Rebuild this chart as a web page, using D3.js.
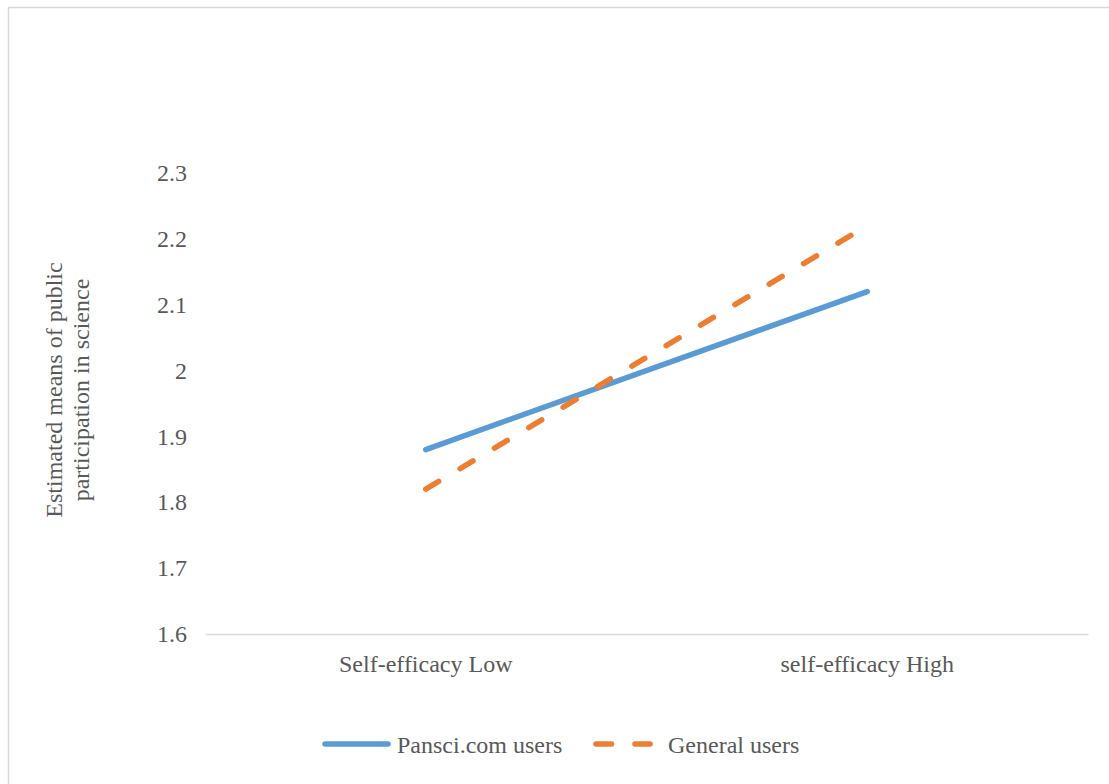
<!DOCTYPE html>
<html>
<head>
<meta charset="utf-8">
<script src="https://cdn.jsdelivr.net/npm/d3@7"></script>
</head>
<body style="margin:0; background:#fff">
<div id="chart"></div>
<script>
// data
var categories = ["Self-efficacy Low", "self-efficacy High"];
var pansci = [1.88, 2.12];
var general = [1.82, 2.22];
var yTicks = [1.6, 1.7, 1.8, 1.9, 2, 2.1, 2.2, 2.3];
var seriesNames = ["Pansci.com users", "General users"];

var FONT = "'Liberation Serif'";
var textColor = "#595959";
var blue = "#5b9bd5", orange = "#ed7d31";

var W = 1109, H = 784;
var margin = {top: 173, right: 21, bottom: 150, left: 205};
var width = W - margin.left - margin.right;
var height = H - margin.top - margin.bottom;

var svg = d3.select("#chart").append("svg")
    .attr("width", W)
    .attr("height", H);

// chart frame (only top/left edges fall inside the picture)
svg.append("rect")
    .attr("x", 8.5).attr("y", 7.5)
    .attr("width", W + 10).attr("height", H + 10)
    .style("fill", "none")
    .style("stroke", "#d9d9d9")
    .style("stroke-width", 1.5);

var g = svg.append("g")
    .attr("transform", "translate(" + margin.left + "," + margin.top + ")");

var xScale = d3.scaleBand()
    .domain(categories)
    .range([0, width]);

var yScale = d3.scaleLinear()
    .domain([1.6, 2.3])
    .range([height, 0]);

// y tick labels, no axis line
var yAxis = g.append("g")
    .attr("class", "y axis")
    .call(d3.axisLeft(yScale).tickValues(yTicks).tickFormat(d3.format("")).tickSize(0).tickPadding(18));
yAxis.attr("font-family", null);
yAxis.select(".domain").remove();
yAxis.selectAll("text")
    .style("font-size", "24px")
    .style("fill", textColor)
    .style("font-family", FONT);

// x axis
var xAxis = g.append("g")
    .attr("class", "x axis")
    .attr("transform", "translate(0," + height + ")")
    .call(d3.axisBottom(xScale).tickSize(0).tickPadding(21));
xAxis.attr("font-family", null);
xAxis.select(".domain")
    .style("stroke", "#d9d9d9")
    .style("stroke-width", 1.5);
xAxis.selectAll("text")
    .style("font-size", "24px")
    .style("fill", textColor)
    .style("font-family", FONT);

// y axis title
var yTitle = svg.append("text")
    .attr("transform", "translate(62," + 390 + ") rotate(-90)")
    .attr("text-anchor", "middle")
    .style("font-size", "24px")
    .style("fill", textColor)
    .style("font-family", FONT);
yTitle.append("tspan").attr("x", 0).attr("dy", 0).text("Estimated means of public");
yTitle.append("tspan").attr("x", 0).attr("dy", 27).text("participation in science");

var line = d3.line()
    .x(function(d, i) { return xScale(categories[i]) + xScale.bandwidth() / 2; })
    .y(function(d) { return yScale(d); });

g.append("path")
    .datum(pansci)
    .attr("d", line)
    .style("fill", "none")
    .style("stroke", blue)
    .style("stroke-width", 5.5)
    .style("stroke-linecap", "round");

g.append("path")
    .datum(general)
    .attr("d", line)
    .style("fill", "none")
    .style("stroke", orange)
    .style("stroke-width", 5.5)
    .style("stroke-linecap", "round")
    .style("stroke-dasharray", "15,25");

// legend
var legend = svg.append("g").attr("transform", "translate(0,744)");
legend.append("line")
    .attr("x1", 325).attr("x2", 388).attr("y1", 0).attr("y2", 0)
    .style("stroke", blue).style("stroke-width", 5.5).style("stroke-linecap", "round");
legend.append("text").attr("x", 397).attr("y", 9)
    .style("font-size", "24px").style("fill", textColor).style("font-family", FONT)
    .text(seriesNames[0]);

legend.append("line")
    .attr("x1", 596).attr("x2", 650).attr("y1", 0).attr("y2", 0)
    .style("stroke", orange).style("stroke-width", 5.5).style("stroke-linecap", "round")
    .style("stroke-dasharray", "15.5,23.5");
legend.append("text").attr("x", 668).attr("y", 9)
    .style("font-size", "24px").style("fill", textColor).style("font-family", FONT)
    .text(seriesNames[1]);
</script>
</body>
</html>
